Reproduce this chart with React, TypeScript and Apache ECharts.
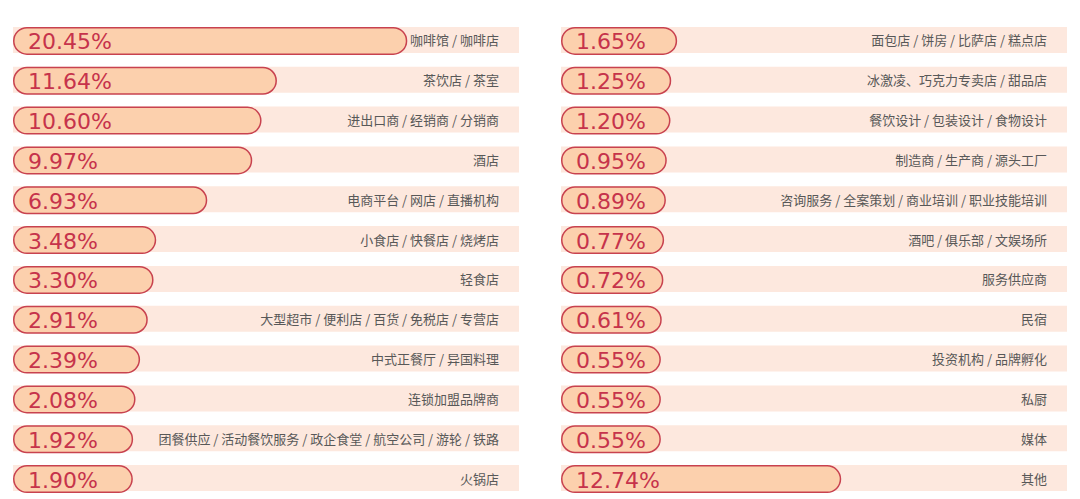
import React, { useEffect, useRef } from "react";
import * as echarts from "echarts";

const leftCategories = [
  "咖啡馆 / 咖啡店",
  "茶饮店 / 茶室",
  "进出口商 / 经销商 / 分销商",
  "酒店",
  "电商平台 / 网店 / 直播机构",
  "小食店 / 快餐店 / 烧烤店",
  "轻食店",
  "大型超市 / 便利店 / 百货 / 免税店 / 专营店",
  "中式正餐厅 / 异国料理",
  "连锁加盟品牌商",
  "团餐供应 / 活动餐饮服务 / 政企食堂 / 航空公司 / 游轮 / 铁路",
  "火锅店",
];
const leftValues = [20.45, 11.64, 10.6, 9.97, 6.93, 3.48, 3.3, 2.91, 2.39, 2.08, 1.92, 1.9];

const rightCategories = [
  "面包店 / 饼房 / 比萨店 / 糕点店",
  "冰激凌、巧克力专卖店 / 甜品店",
  "餐饮设计 / 包装设计 / 食物设计",
  "制造商 / 生产商 / 源头工厂",
  "咨询服务 / 全案策划 / 商业培训 / 职业技能培训",
  "酒吧 / 俱乐部 / 文娱场所",
  "服务供应商",
  "民宿",
  "投资机构 / 品牌孵化",
  "私厨",
  "媒体",
  "其他",
];
const rightValues = [1.65, 1.25, 1.2, 0.95, 0.89, 0.77, 0.72, 0.61, 0.55, 0.55, 0.55, 12.74];

const AXIS_MAX = 34.2; // full track length in axis units
const LABEL_ROOM = 6.2; // extra pill length reserved for the percentage text

export default function App() {
  const ref = useRef<HTMLDivElement>(null);
  useEffect(() => {
    if (!ref.current) return;
    const chart = echarts.init(ref.current, null, { renderer: "svg" });
    const grids = [
      { left: 13, top: 21, width: 506, height: 480 },
      { left: 561, top: 21, width: 506, height: 480 },
    ];
    const cols = [
      { cats: leftCategories, vals: leftValues },
      { cats: rightCategories, vals: rightValues },
    ];
    const series: any[] = [];
    cols.forEach((c, i) => {
      series.push({
        type: "bar",
        xAxisIndex: i,
        yAxisIndex: i,
        data: c.cats.map(() => AXIS_MAX),
        barWidth: 26,
        itemStyle: { color: "#fde8de" },
        silent: true,
        z: 1,
        label: {
          show: true,
          position: "insideRight",
          distance: 20,
          formatter: (p: any) => c.cats[p.dataIndex],
          color: "#585858",
          fontSize: 13,
          fontFamily: "Noto Sans CJK SC",
        },
      });
      series.push({
        type: "bar",
        xAxisIndex: i,
        yAxisIndex: i,
        data: c.vals.map((v) => v + LABEL_ROOM),
        barWidth: 28,
        barGap: "-100%",
        z: 2,
        itemStyle: {
          color: "#fcd0ad",
          borderColor: "#c8424f",
          borderWidth: 1.5,
          borderRadius: 14,
        },
        label: {
          show: true,
          position: "insideLeft",
          distance: 0,
          offset: [15, 1],
          formatter: (p: any) => c.vals[p.dataIndex].toFixed(2) + "%",
          color: "#c6334b",
          fontSize: 22,
          fontFamily: "DejaVu Sans",
        },
      });
    });
    chart.setOption({
      animation: false,
      backgroundColor: "#ffffff",
      grid: grids,
      xAxis: grids.map((_, i) => ({
        type: "value",
        gridIndex: i,
        min: 0,
        max: AXIS_MAX,
        show: false,
      })),
      yAxis: cols.map((c, i) => ({
        type: "category",
        gridIndex: i,
        data: c.cats,
        inverse: true,
        show: false,
      })),
      series,
    });
    return () => chart.dispose();
  }, []);
  return (
    <div
      ref={ref}
      style={{ position: "fixed", left: 0, top: 0, width: 1080, height: 499 }}
    />
  );
}
